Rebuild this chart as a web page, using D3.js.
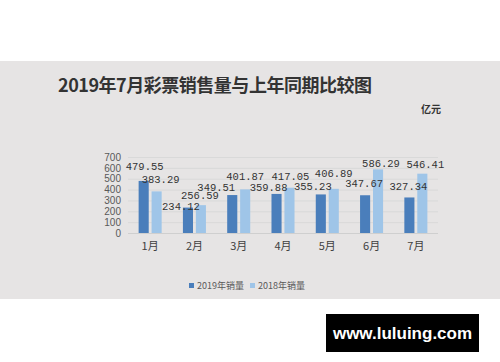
<!DOCTYPE html>
<html><head><meta charset="utf-8">
<script src="https://cdn.jsdelivr.net/npm/d3@7/dist/d3.min.js"></script>
<style>
html,body{margin:0;padding:0;background:#fff;}
svg{display:block;}
</style></head>
<body><svg id="c" width="500" height="362"></svg>
<script>
const categories = ["1月","2月","3月","4月","5月","6月","7月"];
const sales2019 = [479.55, 234.12, 349.51, 359.88, 355.23, 347.67, 327.34];
const sales2018 = [383.29, 256.59, 401.87, 417.05, 406.89, 586.29, 546.41];
const seriesNames = ["2019年销量", "2018年销量"];
const yTicks = [0,100,200,300,400,500,600,700];
const titleText = "2019年7月彩票销售量与上年同期比较图";
const unitText = "亿元";
const watermark = "www.luluing.com";

// label nudges (layout only), [dx, dy] relative to bar-top centred
const nudge2019 = [[1,-11],[-7,2],[-16,-4],[-8,-3],[-8,-4],[-1,-8],[-1,-7]];
const nudge2018 = [[4,-8],[-1,-6],[0,-9],[1,-8],[0,-12],[3,-2],[3,-6]];

const svg = d3.select("#c");
const colors = ["#4a7ebb", "#9fc5e8"];

svg.append("rect").attr("x",0).attr("y",61).attr("width",500).attr("height",238).attr("fill","#e6e4e4");

svg.append("text").attr("x",58).attr("y",92).attr("font-family","'Noto Sans CJK SC'").attr("font-weight","bold")
  .attr("font-size",18).attr("fill","#333").attr("textLength",314).text(titleText);
svg.append("text").attr("x",421).attr("y",113).attr("font-family","'Noto Sans CJK SC'").attr("font-weight","bold")
  .attr("font-size",10).attr("fill","#333").text(unitText);

const x0 = d3.scaleBand().domain(categories).range([128,438]).paddingInner(0.48).paddingOuter(0.24);
const x1 = d3.scaleBand().domain([0,1]).range([0,x0.bandwidth()]).paddingInner(0.22);
const y = d3.scaleLinear().domain([0,700]).range([233,157]);

// gridlines
const g = svg.append("g");
g.selectAll("line.grid").data(yTicks).join("line")
  .attr("x1",128).attr("x2",438).attr("y1",d=>y(d)+0.5).attr("y2",d=>y(d)+0.5)
  .attr("stroke",d=>d===0?"#cfcfcf":"#d9d9d9").attr("stroke-width",1);

const yAxis = d3.axisLeft(y).tickValues(yTicks).tickSize(0).tickPadding(0);
const ya = svg.append("g").attr("transform","translate(121,0)").call(yAxis);
ya.select(".domain").remove();
ya.selectAll("text").attr("font-family","'Liberation Sans', Arial").attr("font-size",10).attr("fill","#595959");

const xAxis = d3.axisBottom(x0).tickSize(0).tickPadding(0);
const xa = svg.append("g").attr("transform","translate(0,242)").call(xAxis);
xa.select(".domain").remove();
xa.selectAll("text").attr("font-family","'Noto Sans CJK SC'").attr("font-size",11).attr("fill","#404040");

const data = categories.map((c,i)=>({c, v:[sales2019[i], sales2018[i]], n:[nudge2019[i], nudge2018[i]]}));
const grp = svg.append("g").selectAll("g").data(data).join("g").attr("transform",d=>`translate(${x0(d.c)},0)`);
grp.selectAll("rect").data(d=>d.v.map((v,k)=>({v,k}))).join("rect")
  .attr("x",d=>x1(d.k)).attr("width",x1.bandwidth())
  .attr("y",d=>y(d.v)).attr("height",d=>y(0)-y(d.v)).attr("fill",d=>colors[d.k]);
grp.selectAll("text").data(d=>d.v.map((v,k)=>({v,k,n:d.n[k]}))).join("text")
  .attr("x",d=>x1(d.k)+x1.bandwidth()/2+d.n[0]).attr("y",d=>y(d.v)+d.n[1])
  .attr("text-anchor","middle").attr("font-family","'Liberation Mono', monospace").attr("font-size",10.5)
  .attr("fill","#333").text(d=>d.v.toFixed(2));

// legend
const leg = svg.append("g");
const legX = [189, 250];
seriesNames.forEach((s,k)=>{
  leg.append("rect").attr("x",legX[k]).attr("y",283).attr("width",5).attr("height",5).attr("fill",colors[k]);
  leg.append("text").attr("x",legX[k]+8).attr("y",289).attr("font-family","'Noto Sans CJK SC'").attr("font-size",9)
    .attr("fill","#595959").text(s);
});

// watermark
svg.append("rect").attr("x",326).attr("y",314).attr("width",153).attr("height",38).attr("fill","#000");
svg.append("text").attr("x",402.5).attr("y",339).attr("text-anchor","middle").attr("font-family","'Liberation Sans', Arial")
  .attr("font-weight","bold").attr("font-size",17).attr("fill","#fff").text(watermark);
</script></body></html>
